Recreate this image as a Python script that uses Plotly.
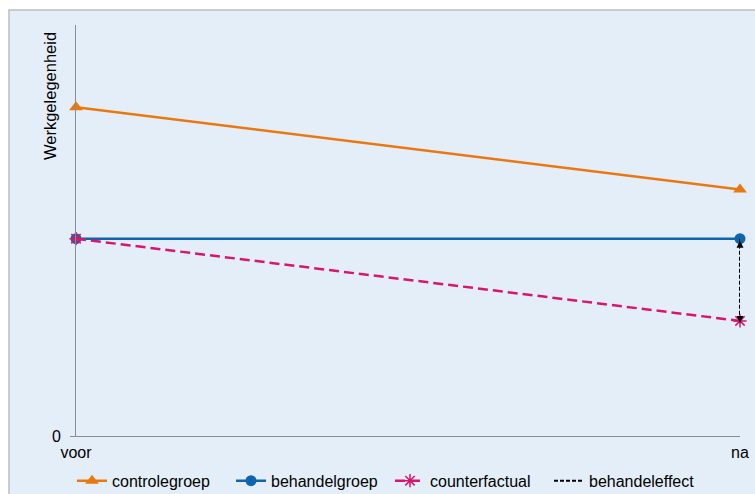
import plotly.graph_objects as go

# Difference-in-differences illustration: employment before/after
categories = ["voor", "na"]
controlegroep = [8.0, 6.0]
behandelgroep = [4.8, 4.8]
counterfactual = [4.8, 2.8]
# treatment effect: from counterfactual up to treated value at "na"
effect_x = ["na", "na"]
effect_y = [4.8, 2.8]

y_ticks = [0]
y_ticklabels = ["0"]

ORANGE = "#E8780F"
BLUE = "#0F64AE"
PINK = "#D8166E"
BG = "#E4EEF8"
AXIS = "#8C8C8C"
FAMILY = "Liberation Sans, Arial, sans-serif"
FONT = dict(family=FAMILY, size=16, color="#000000")

fig = go.Figure()

fig.add_trace(go.Scatter(
    x=categories, y=controlegroep, name="controlegroep", mode="lines+markers",
    line=dict(color=ORANGE, width=2.5),
    marker=dict(symbol="triangle-up", size=12, color=ORANGE),
    cliponaxis=False,
))
fig.add_trace(go.Scatter(
    x=categories, y=behandelgroep, name="behandelgroep", mode="lines+markers",
    line=dict(color=BLUE, width=2.5),
    marker=dict(symbol="circle", size=11, color=BLUE),
    cliponaxis=False,
))
fig.add_trace(go.Scatter(
    x=categories, y=counterfactual, name="counterfactual", mode="lines+markers",
    line=dict(color=PINK, width=2.5, dash="10px,5px"),
    marker=dict(symbol="asterisk-open", size=11, line=dict(color=PINK, width=1.5)),
    cliponaxis=False,
))
fig.add_trace(go.Scatter(
    x=effect_x, y=effect_y, name="behandeleffect", mode="lines+markers",
    line=dict(color="#000000", width=2, dash="4px,2px"),
    marker=dict(symbol=["arrow-up", "arrow-down"], size=7, color="#000000",
                standoff=2),
    showlegend=False,
    cliponaxis=False,
))
# legend entry for the effect arrow
fig.add_trace(go.Scatter(
    x=[None], y=[None], name="behandeleffect", mode="lines",
    line=dict(color="#000000", width=2, dash="4px,2px"),
))

fig.update_layout(
    width=755, height=494,
    margin=dict(l=76, r=15, t=25, b=58, autoexpand=False),
    paper_bgcolor="#FFFFFF",
    plot_bgcolor="rgba(0,0,0,0)",
    font=FONT,
    showlegend=True,
    legend=dict(
        orientation="h", x=-4 / 664, xanchor="left", y=-0.109, yanchor="middle",
        bgcolor="rgba(0,0,0,0)", font=FONT, traceorder="normal",
        itemwidth=30, entrywidth=114, entrywidthmode="pixels",
    ),
    xaxis=dict(
        type="category", range=[0, 1], showgrid=False, zeroline=False,
        showline=True, linecolor=AXIS, linewidth=1,
        ticks="outside", ticklen=2, tickcolor="rgba(0,0,0,0)",
        tickfont=FONT,
    ),
    yaxis=dict(
        range=[0, 10], showgrid=False, zeroline=False,
        showline=True, linecolor=AXIS, linewidth=1,
        tickvals=y_ticks, ticktext=y_ticklabels,
        ticks="outside", ticklen=5, tickcolor=AXIS,
        ticklabelstandoff=6, tickfont=FONT,
    ),
    shapes=[
        dict(type="rect", xref="paper", yref="paper", layer="below",
             x0=(9 - 76) / 664, x1=(780 - 76) / 664,
             y0=(436 - 520) / 411, y1=(436 - 10) / 411,
             fillcolor=BG, line=dict(color="#BDBDBD", width=1.5)),
    ],
    annotations=[
        dict(text="Werkgelegenheid", textangle=-90, xref="paper", yref="paper",
             x=(50 - 76) / 664, y=(436 - 30) / 411, xanchor="center", yanchor="top",
             showarrow=False, font=dict(family=FAMILY, size=16.5, color="#000000")),
    ],
)

fig.write_html("out.html")
